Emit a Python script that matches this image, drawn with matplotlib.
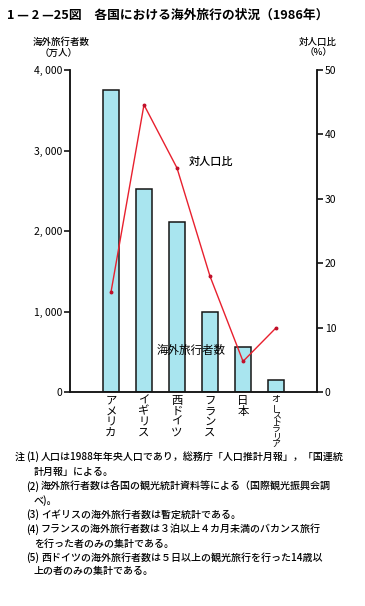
import matplotlib
matplotlib.use("Agg")
import matplotlib.pyplot as plt
from matplotlib.ticker import FixedLocator, FixedFormatter

plt.rcParams['font.family'] = ['Noto Sans CJK JP', 'DejaVu Sans']

# ---- data ----
countries = ["アメリカ", "イギリス", "西ドイツ", "フランス", "日本", "オーストラリア"]
travelers = [3750, 2520, 2110, 1000, 560, 150]          # 万人
ratio = [15.5, 44.6, 34.8, 18.0, 4.8, 10.0]             # %
left_ticks = [0, 1000, 2000, 3000, 4000]
left_ticklabels = ["0", "1, 000", "2, 000", "3, 000", "4, 000"]
right_ticks = [0, 10, 20, 30, 40, 50]
right_ticklabels = ["0", "10", "20", "30", "40", "50"]

title = "1 — 2 —25図　各国における海外旅行の状況（1986年）"
notes = [
    ("注", "(1)", "人口は1988年年央人口であり，総務庁「人口推計月報」，「国連統"),
    ("", "", "計月報」による。"),
    ("", "(2)", "海外旅行者数は各国の観光統計資料等による（国際観光振興会調"),
    ("", "", "べ)。"),
    ("", "(3)", "イギリスの海外旅行者数は暫定統計である。"),
    ("", "(4)", "フランスの海外旅行者数は３泊以上４カ月未満のバカンス旅行"),
    ("", "", "を行った者のみの集計である。"),
    ("", "(5)", "西ドイツの海外旅行者数は５日以上の観光旅行を行った14歳以"),
    ("", "", "上の者のみの集計である。"),
]

W, H = 365, 606
fig = plt.figure(figsize=(W / 100, H / 100), dpi=100)
fig.patch.set_facecolor("white")

def fx(px):
    return px / W

def fy(py):
    return 1 - py / H

ax = fig.add_axes([fx(70), fy(392.3), fx(317) - fx(70), fy(70) - fy(392.3)])
ax2 = ax.twinx()

x = list(range(len(countries)))
ax.bar(x, travelers, width=0.5, color="#a9e5ef", edgecolor="#151515", linewidth=1.1, zorder=2)
ax.set_xlim(-1.24, 6.24)
ax.set_ylim(0, 4000)
ax2.set_ylim(0, 50)

ax2.plot(x, ratio, color="#e8202e", linewidth=1.0, marker="o", markersize=1.8,
         markerfacecolor="#c0102a", markeredgecolor="#c0102a", zorder=3)

for a in (ax, ax2):
    a.spines["top"].set_visible(False)
    for s in ("left", "right", "bottom"):
        a.spines[s].set_linewidth(1.1)
        a.spines[s].set_color("#151515")

ax.yaxis.set_major_locator(FixedLocator(left_ticks))
ax.yaxis.set_major_formatter(FixedFormatter(left_ticklabels))
ax2.yaxis.set_major_locator(FixedLocator(right_ticks))
ax2.yaxis.set_major_formatter(FixedFormatter(right_ticklabels))
ax.tick_params(axis="y", direction="out", length=4, width=1.1, labelsize=7.5, pad=1.5)
ax2.tick_params(axis="y", direction="out", length=4, width=1.1, labelsize=7.5, pad=1.5)
ax.set_xticks([])

# vertical category labels, one character per line
for i, name in enumerate(countries):
    small = len(name) > 5
    fs = 6.4 if small else 8.2
    step = 7.5 if small else 10.6
    start = 7.5 if small else 8.5
    for k, ch in enumerate(name):
        rot = 90 if ch == "ー" else 0
        ax.annotate(ch, xy=(i, 0), xycoords=("data", "axes fraction"),
                    xytext=(0, -(start + k * step) * 0.72), textcoords="offset points",
                    ha="center", va="center", fontsize=fs, rotation=rot,
                    annotation_clip=False)

# in-plot labels
ax.text((189 - 70) / 247, (392.3 - 162) / 322.3, "対人口比", transform=ax.transAxes,
        ha="left", va="center", fontsize=8, fontweight="medium")
ax.text((157 - 70) / 247, (392.3 - 350) / 322.3, "海外旅行者数", transform=ax.transAxes,
        ha="left", va="center", fontsize=8.3, zorder=5)

# axis titles
fig.text(fx(61), fy(42), "海外旅行者数", ha="center", va="center", fontsize=6.8, fontweight="medium")
fig.text(fx(59), fy(53), "（万人）", ha="center", va="center", fontsize=6.8, fontweight="medium")
fig.text(fx(318), fy(42), "対人口比", ha="center", va="center", fontsize=6.8, fontweight="medium")
fig.text(fx(319), fy(53), "（%）", ha="center", va="center", fontsize=6.8, fontweight="medium")

# title
fig.text(fx(7), fy(15), title, ha="left", va="center", fontsize=9.2, fontweight="bold")

# notes
ys = [456.7, 471.7, 486.7, 501, 515, 529.3, 543.7, 557.3, 571.3]
for (mark, num, body), y in zip(notes, ys):
    if mark:
        fig.text(fx(15), fy(y), mark, ha="left", va="center", fontsize=7.2, fontweight="medium")
    if num:
        fig.text(fx(26), fy(y), num, ha="left", va="center", fontsize=7.2, fontweight="medium")
        fig.text(fx(41), fy(y), body, ha="left", va="center", fontsize=7.2, fontweight="medium")
    else:
        fig.text(fx(34), fy(y), body, ha="left", va="center", fontsize=7.2, fontweight="medium")

fig.savefig("out.png", dpi=100, facecolor="white")
